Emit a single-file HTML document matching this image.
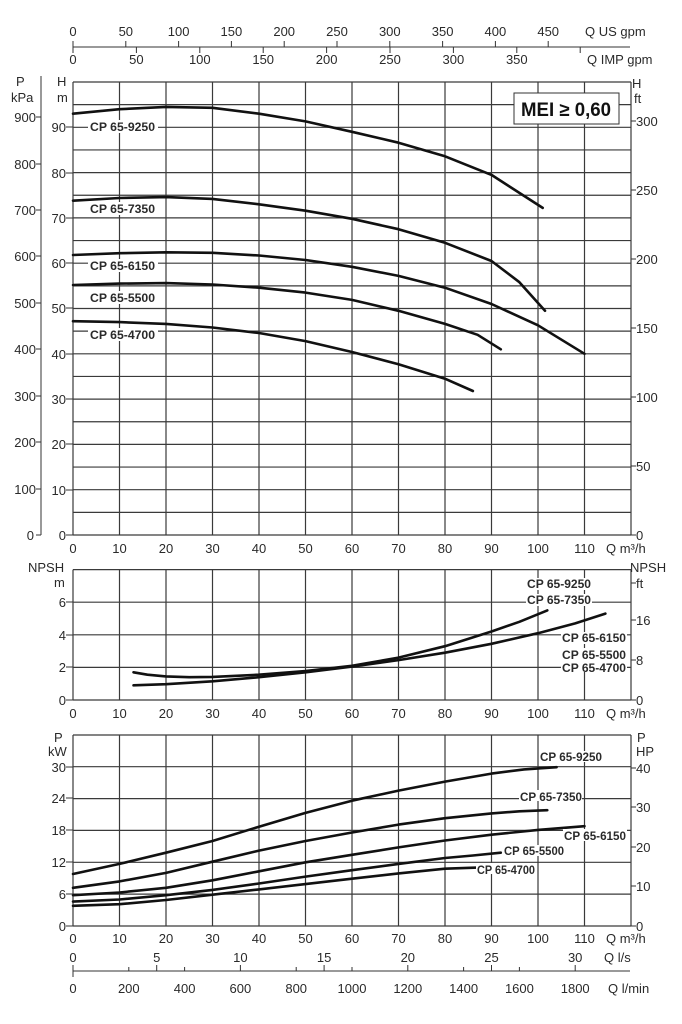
<!DOCTYPE html>
<html><head><meta charset="utf-8"><style>
html,body{margin:0;padding:0;background:#fff}
svg{display:block}
text{font-family:"Liberation Sans",sans-serif;fill:#2a2a2a}
.t{font-size:13px}
.b{font-size:12px;font-weight:bold;fill:#111}
.g{stroke:#3a3a3a;stroke-width:1.2;fill:none}
.c{stroke:#111;stroke-width:2.6;fill:none;stroke-linejoin:round;stroke-linecap:round}
.k{stroke:#333;stroke-width:1;fill:none}
</style></head><body>
<svg width="682" height="1024" viewBox="0 0 682 1024" xmlns="http://www.w3.org/2000/svg">
<!-- Top flow axes -->
<line class="k" x1="73" y1="47" x2="630" y2="47"/>
<g class="k">
<line x1="73" y1="41" x2="73" y2="53"/>
<line x1="125.8" y1="41" x2="125.8" y2="47"/><line x1="178.6" y1="41" x2="178.6" y2="47"/><line x1="231.4" y1="41" x2="231.4" y2="47"/><line x1="284.2" y1="41" x2="284.2" y2="47"/><line x1="337" y1="41" x2="337" y2="47"/><line x1="389.8" y1="41" x2="389.8" y2="47"/><line x1="442.6" y1="41" x2="442.6" y2="47"/><line x1="495.4" y1="41" x2="495.4" y2="47"/><line x1="548.2" y1="41" x2="548.2" y2="47"/>
<line x1="136.4" y1="47" x2="136.4" y2="53"/><line x1="199.8" y1="47" x2="199.8" y2="53"/><line x1="263.2" y1="47" x2="263.2" y2="53"/><line x1="326.6" y1="47" x2="326.6" y2="53"/><line x1="390" y1="47" x2="390" y2="53"/><line x1="453.4" y1="47" x2="453.4" y2="53"/><line x1="516.8" y1="47" x2="516.8" y2="53"/><line x1="580.2" y1="47" x2="580.2" y2="53"/>
</g>
<g class="t" text-anchor="middle">
<text x="73" y="36">0</text><text x="125.8" y="36">50</text><text x="178.6" y="36">100</text><text x="231.4" y="36">150</text><text x="284.2" y="36">200</text><text x="337" y="36">250</text><text x="389.8" y="36">300</text><text x="442.6" y="36">350</text><text x="495.4" y="36">400</text><text x="548.2" y="36">450</text>
<text x="73" y="64">0</text><text x="136.4" y="64">50</text><text x="199.8" y="64">100</text><text x="263.2" y="64">150</text><text x="326.6" y="64">200</text><text x="390" y="64">250</text><text x="453.4" y="64">300</text><text x="516.8" y="64">350</text>
</g>
<text class="t" x="585" y="36">Q US gpm</text>
<text class="t" x="587" y="64">Q IMP gpm</text>

<!-- TOP CHART -->
<g class="g">
<path d="M73 82V535M119.5 82V535M166 82V535M212.5 82V535M259 82V535M305.5 82V535M352 82V535M398.5 82V535M445 82V535M491.5 82V535M538 82V535M584.5 82V535M631 82V535"/>
<path d="M73 535H631M73 512.35H631M73 489.7H631M73 467.05H631M73 444.4H631M73 421.75H631M73 399.1H631M73 376.45H631M73 353.8H631M73 331.15H631M73 308.5H631M73 285.85H631M73 263.2H631M73 240.55H631M73 217.9H631M73 195.25H631M73 172.6H631M73 149.95H631M73 127.3H631M73 104.65H631M73 82H631"/>
</g>
<polyline class="c" points="73,113.7 119.5,109.2 166,106.9 212.5,107.8 259,113.7 305.5,121.4 352,131.8 398.5,142.7 445,156.3 491.5,174.9 542.7,207.9"/>
<polyline class="c" points="73,200.7 119.5,198 166,197.1 212.5,198.9 259,204.3 305.5,210.7 352,218.8 398.5,229.2 445,242.8 491.5,261 519.4,282.2 545,310.8"/>
<polyline class="c" points="73,255 119.5,253.2 166,252.3 212.5,252.8 259,255.5 305.5,260 352,266.8 398.5,275.9 445,287.7 491.5,304 538,325.3 584.5,353.8"/>
<polyline class="c" points="73,285 119.5,283.6 166,283.1 212.5,284.5 259,287.7 305.5,292.6 352,299.9 398.5,310.8 445,323.9 477.6,334.8 500.8,349.3"/>
<polyline class="c" points="73,321.2 119.5,322.1 166,323.9 212.5,327.5 259,333 305.5,341.1 352,352 398.5,364.2 445,378.7 472.9,391"/>
<g fill="#fff">
<rect x="88" y="120" width="70" height="13"/><rect x="88" y="202" width="70" height="13"/><rect x="88" y="259" width="70" height="13"/><rect x="88" y="291" width="70" height="13"/><rect x="88" y="328" width="70" height="13"/>
</g>
<g class="b">
<text x="90" y="131" textLength="65" lengthAdjust="spacingAndGlyphs">CP 65-9250</text>
<text x="90" y="213" textLength="65" lengthAdjust="spacingAndGlyphs">CP 65-7350</text>
<text x="90" y="270" textLength="65" lengthAdjust="spacingAndGlyphs">CP 65-6150</text>
<text x="90" y="302" textLength="65" lengthAdjust="spacingAndGlyphs">CP 65-5500</text>
<text x="90" y="339" textLength="65" lengthAdjust="spacingAndGlyphs">CP 65-4700</text>
</g>
<rect x="514" y="93" width="105" height="31" fill="#fff" stroke="#333" stroke-width="1"/>
<text x="566" y="116" text-anchor="middle" style="font-size:19px;font-weight:bold;fill:#111" textLength="90" lengthAdjust="spacingAndGlyphs">MEI ≥ 0,60</text>
<!-- left axes top -->
<line class="k" x1="41" y1="76" x2="41" y2="535"/><line class="k" x1="36" y1="535" x2="41" y2="535"/>
<text class="t" x="16" y="86">P</text><text class="t" x="11" y="102">kPa</text>
<text class="t" x="57" y="86">H</text><text class="t" x="57" y="102">m</text>
<g class="k">
<path d="M36 117H41M36 164H41M36 210H41M36 256H41M36 303H41M36 349H41M36 396H41M36 442H41M36 489H41"/>
<path d="M66 535H73M66 490H73M66 444H73M66 399H73M66 354H73M66 308H73M66 263H73M66 218H73M66 173H73M66 127H73"/>
<path d="M631 535H636M631 466H636M631 397H636M631 328H636M631 259H636M631 190H636M631 121H636"/>
</g>
<g class="t" text-anchor="end">
<text x="36" y="122">900</text><text x="36" y="169">800</text><text x="36" y="215">700</text><text x="36" y="261">600</text><text x="36" y="308">500</text><text x="36" y="354">400</text><text x="36" y="401">300</text><text x="36" y="447">200</text><text x="36" y="494">100</text><text x="34" y="540">0</text>
<text x="66" y="540">0</text><text x="66" y="495">10</text><text x="66" y="449">20</text><text x="66" y="404">30</text><text x="66" y="359">40</text><text x="66" y="313">50</text><text x="66" y="268">60</text><text x="66" y="223">70</text><text x="66" y="178">80</text><text x="66" y="132">90</text>
</g>
<g class="t">
<text x="632" y="88">H</text><text x="634" y="103">ft</text>
<text x="636" y="540">0</text><text x="636" y="471">50</text><text x="636" y="402">100</text><text x="636" y="333">150</text><text x="636" y="264">200</text><text x="636" y="195">250</text><text x="636" y="126">300</text>
</g>
<g class="t" text-anchor="middle">
<text x="73" y="553">0</text><text x="119.5" y="553">10</text><text x="166" y="553">20</text><text x="212.5" y="553">30</text><text x="259" y="553">40</text><text x="305.5" y="553">50</text><text x="352" y="553">60</text><text x="398.5" y="553">70</text><text x="445" y="553">80</text><text x="491.5" y="553">90</text><text x="538" y="553">100</text><text x="584.5" y="553">110</text>
</g>
<text class="t" x="606" y="553">Q m³/h</text>

<!-- NPSH CHART -->
<g class="g">
<path d="M73 569.6V700M119.5 569.6V700M166 569.6V700M212.5 569.6V700M259 569.6V700M305.5 569.6V700M352 569.6V700M398.5 569.6V700M445 569.6V700M491.5 569.6V700M538 569.6V700M584.5 569.6V700M631 569.6V700"/>
<path d="M73 700H631M73 667.4H631M73 634.8H631M73 602.2H631M73 569.6H631"/>
</g>
<polyline class="c" points="133.5,672.3 147.4,674.7 166,676.4 189.3,677.2 212.5,676.9 259,674.7 305.5,671 352,665.8 398.5,657.6 445,646.2 491.5,631.5 519.4,621.8 547.3,610.4"/>
<polyline class="c" points="133.5,685.3 166,684.2 212.5,681.3 259,677.2 305.5,672.3 352,666.6 398.5,660.1 445,652.7 491.5,643.8 538,633.2 575.2,623.4 605.4,613.6"/>
<g fill="#fff"><rect x="526" y="594" width="66" height="12"/><rect x="526" y="578" width="66" height="12"/><rect x="561" y="632" width="66" height="12"/><rect x="561" y="648" width="66" height="24"/></g>
<g class="b">
<text x="527" y="588" textLength="64" lengthAdjust="spacingAndGlyphs">CP 65-9250</text>
<text x="527" y="604" textLength="64" lengthAdjust="spacingAndGlyphs">CP 65-7350</text>
<text x="562" y="642" textLength="64" lengthAdjust="spacingAndGlyphs">CP 65-6150</text>
<text x="562" y="659" textLength="64" lengthAdjust="spacingAndGlyphs">CP 65-5500</text>
<text x="562" y="672" textLength="64" lengthAdjust="spacingAndGlyphs">CP 65-4700</text>
</g>
<g class="k"><path d="M66 700H73M66 667H73M66 635H73M66 602H73M631 700H636M631 660H636M631 620H636M631 583H636"/></g>
<text class="t" x="28" y="572">NPSH</text><text class="t" x="54" y="587">m</text>
<text class="t" x="630" y="572">NPSH</text><text class="t" x="636" y="588">ft</text>
<g class="t" text-anchor="end"><text x="66" y="705">0</text><text x="66" y="672">2</text><text x="66" y="640">4</text><text x="66" y="607">6</text></g>
<g class="t"><text x="636" y="705">0</text><text x="636" y="665">8</text><text x="636" y="625">16</text></g>
<g class="t" text-anchor="middle">
<text x="73" y="718">0</text><text x="119.5" y="718">10</text><text x="166" y="718">20</text><text x="212.5" y="718">30</text><text x="259" y="718">40</text><text x="305.5" y="718">50</text><text x="352" y="718">60</text><text x="398.5" y="718">70</text><text x="445" y="718">80</text><text x="491.5" y="718">90</text><text x="538" y="718">100</text><text x="584.5" y="718">110</text>
</g>
<text class="t" x="606" y="718">Q m³/h</text>

<!-- POWER CHART -->
<g class="g">
<path d="M73 735V926M119.5 735V926M166 735V926M212.5 735V926M259 735V926M305.5 735V926M352 735V926M398.5 735V926M445 735V926M491.5 735V926M538 735V926M584.5 735V926M631 735V926"/>
<path d="M73 926H631M73 894.1H631M73 862.3H631M73 830.4H631M73 798.6H631M73 766.7H631M73 735H631"/>
</g>
<polyline class="c" points="73,874 119.5,863.9 166,852.7 212.5,841 259,826.7 305.5,812.9 352,800.7 398.5,790.6 445,781.6 491.5,773.6 524,769.4 556.6,767.2"/>
<polyline class="c" points="73,887.8 119.5,881.4 166,872.9 212.5,861.7 259,850.6 305.5,841 352,832.5 398.5,824.6 445,818.2 491.5,813.4 519.4,811.3 547.3,810.2"/>
<polyline class="c" points="73,895.2 119.5,892.5 166,887.8 212.5,880.3 259,871.3 305.5,862.3 352,854.8 398.5,847.4 445,840.5 491.5,834.7 538,829.9 584.5,826.2"/>
<polyline class="c" points="73,901.6 119.5,899.5 166,895.2 212.5,889.9 259,883.5 305.5,876.6 352,870.2 398.5,863.9 445,858 472.9,855.5 500.8,852.7"/>
<polyline class="c" points="73,905.8 119.5,904.2 166,900 212.5,894.7 259,889.4 305.5,884.1 352,878.7 398.5,873.4 445,868.7 477.6,867.6"/>
<g fill="#fff"><rect x="519" y="790" width="63" height="11"/><rect x="563" y="829" width="64" height="12"/><rect x="476" y="863" width="60" height="11"/><rect x="539" y="751" width="63" height="11"/><rect x="503" y="845" width="62" height="11"/></g>
<g class="b">
<text x="540" y="761" textLength="62" lengthAdjust="spacingAndGlyphs">CP 65-9250</text>
<text x="520" y="801" textLength="62" lengthAdjust="spacingAndGlyphs">CP 65-7350</text>
<text x="564" y="840" textLength="62" lengthAdjust="spacingAndGlyphs">CP 65-6150</text>
<text x="504" y="855" textLength="60" lengthAdjust="spacingAndGlyphs">CP 65-5500</text>
<text x="477" y="874" textLength="58" lengthAdjust="spacingAndGlyphs">CP 65-4700</text>
</g>
<g class="k"><path d="M66 926H73M66 894H73M66 862H73M66 830H73M66 798H73M66 767H73M631 926H636M631 886H636M631 847H636M631 807H636M631 768H636"/></g>
<text class="t" x="54" y="742">P</text><text class="t" x="48" y="756">kW</text>
<text class="t" x="637" y="742">P</text><text class="t" x="636" y="756">HP</text>
<g class="t" text-anchor="end"><text x="66" y="931">0</text><text x="66" y="899">6</text><text x="66" y="867">12</text><text x="66" y="835">18</text><text x="66" y="803">24</text><text x="66" y="772">30</text></g>
<g class="t"><text x="636" y="931">0</text><text x="636" y="891">10</text><text x="636" y="852">20</text><text x="636" y="812">30</text><text x="636" y="773">40</text></g>
<g class="t" text-anchor="middle">
<text x="73" y="943">0</text><text x="119.5" y="943">10</text><text x="166" y="943">20</text><text x="212.5" y="943">30</text><text x="259" y="943">40</text><text x="305.5" y="943">50</text><text x="352" y="943">60</text><text x="398.5" y="943">70</text><text x="445" y="943">80</text><text x="491.5" y="943">90</text><text x="538" y="943">100</text><text x="584.5" y="943">110</text>
</g>
<text class="t" x="606" y="943">Q m³/h</text>
<!-- l/s & l/min axes -->
<line class="k" x1="73" y1="971" x2="630" y2="971"/>
<g class="k"><path d="M73 965V977M156.7 965V971M240.4 965V971M324.1 965V971M407.8 965V971M491.5 965V971M575.2 965V971M128.8 967V971M184.6 967V971M296.2 967V971M352 967V971M463.6 967V971M519.4 967V971"/></g>
<g class="t" text-anchor="middle">
<text x="73" y="962">0</text><text x="156.7" y="962">5</text><text x="240.4" y="962">10</text><text x="324.1" y="962">15</text><text x="407.8" y="962">20</text><text x="491.5" y="962">25</text><text x="575.2" y="962">30</text>
<text x="73" y="993">0</text><text x="128.8" y="993">200</text><text x="184.6" y="993">400</text><text x="240.4" y="993">600</text><text x="296.2" y="993">800</text><text x="352" y="993">1000</text><text x="407.8" y="993">1200</text><text x="463.6" y="993">1400</text><text x="519.4" y="993">1600</text><text x="575.2" y="993">1800</text>
</g>
<text class="t" x="604" y="962">Q l/s</text>
<text class="t" x="608" y="993">Q l/min</text>
</svg>
</body></html>
